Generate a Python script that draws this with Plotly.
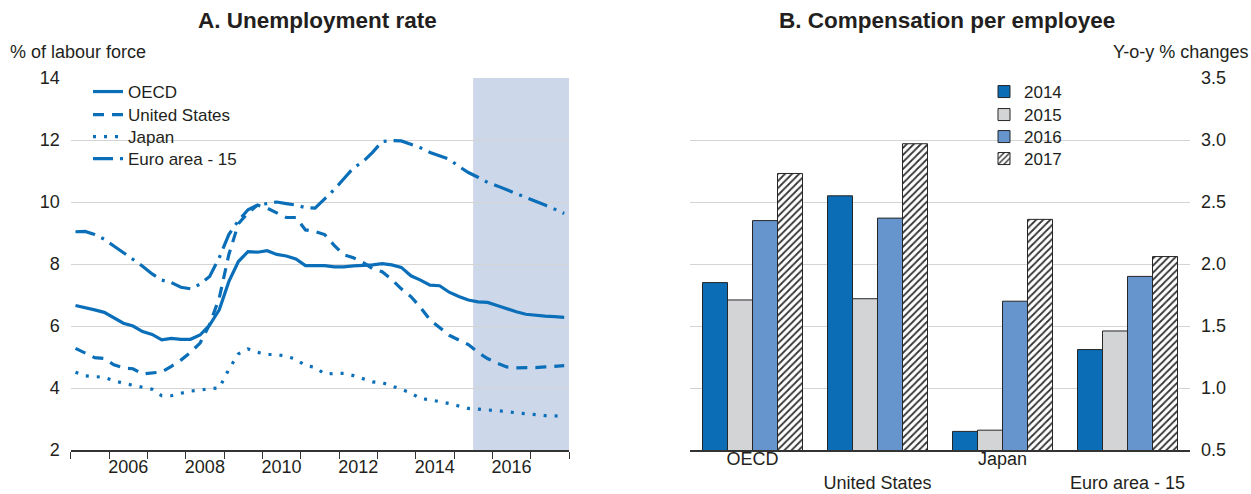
import plotly.graph_objects as go

# ---------------- Data ----------------
years = list(range(2005, 2018))
quarters = [f"{y}Q{q}" for y in years for q in range(1, 5)]

oecd = [6.66, 6.60, 6.52, 6.44,
        6.25, 6.09, 6.00, 5.82,
        5.73, 5.55, 5.60, 5.57,
        5.57, 5.71, 6.03, 6.52,
        7.43, 8.08, 8.40, 8.38,
        8.43, 8.31, 8.26, 8.16,
        7.95, 7.94, 7.95, 7.91,
        7.91, 7.94, 7.95, 7.97,
        8.01, 7.97, 7.89, 7.62,
        7.48, 7.32, 7.30, 7.09,
        6.95, 6.84, 6.78, 6.76,
        6.66, 6.55, 6.46, 6.38,
        6.34, 6.32, 6.30, 6.28]

united_states = [5.28, 5.12, 4.98, 4.95,
                 4.75, 4.65, 4.62, 4.45,
                 4.48, 4.52, 4.70, 4.90,
                 5.15, 5.45, 6.05, 6.90,
                 8.30, 9.30, 9.65, 9.90,
                 9.80, 9.65, 9.50, 9.50,
                 9.10, 9.05, 8.95, 8.60,
                 8.30, 8.20, 8.05, 7.85,
                 7.75, 7.50, 7.20, 6.95,
                 6.60, 6.20, 5.95, 5.70,
                 5.55, 5.40, 5.15, 4.95,
                 4.80, 4.68, 4.65, 4.65,
                 4.66, 4.68, 4.70, 4.72]

japan = [4.51, 4.39, 4.37, 4.34,
         4.24, 4.15, 4.09, 4.03,
         3.96, 3.75, 3.75, 3.83,
         3.90, 3.93, 3.98, 4.00,
         4.60, 5.10, 5.26, 5.15,
         5.08, 5.08, 5.02, 4.93,
         4.72, 4.67, 4.45, 4.47,
         4.47, 4.40, 4.29, 4.20,
         4.17, 4.07, 3.96, 3.84,
         3.66, 3.62, 3.57, 3.50,
         3.42, 3.34, 3.32, 3.30,
         3.28, 3.24, 3.20, 3.17,
         3.13, 3.11, 3.10, 3.09]

euro_area = [9.04, 9.05, 8.95, 8.80,
             8.58, 8.35, 8.15, 7.93,
             7.68, 7.48, 7.40, 7.25,
             7.20, 7.35, 7.60, 8.20,
             8.95, 9.40, 9.75, 9.90,
             9.95, 10.00, 9.95, 9.90,
             9.82, 9.80, 10.10, 10.40,
             10.75, 11.10, 11.30, 11.60,
             11.95, 11.98, 11.97, 11.85,
             11.75, 11.60, 11.50, 11.38,
             11.15, 10.95, 10.80, 10.63,
             10.52, 10.40, 10.27, 10.15,
             10.02, 9.90, 9.77, 9.63]

projection_start = 2015.5
year_labels = ["2006", "2008", "2010", "2012", "2014", "2016"]

countries = ["OECD", "United States", "Japan", "Euro area - 15"]
comp_2014 = [1.85, 2.55, 0.65, 1.31]
comp_2015 = [1.71, 1.72, 0.66, 1.46]
comp_2016 = [2.35, 2.37, 1.70, 1.90]
comp_2017 = [2.73, 2.97, 2.36, 2.06]


def qpos(label):
    return int(label[:4]) + (int(label[-1]) - 0.5) / 4


x_q = [qpos(s) for s in quarters]

# ---------------- Figure ----------------
W, H = 1251, 494
FONT = "Liberation Sans, Arial, sans-serif"
TXT = "#231f20"
BLUE = "#0a6fb8"
GRID = "#d4d4d4"
AX = "#333333"
LEG_Y = [92, 115, 137, 159]

fig = go.Figure()

line_specs = [
    ("OECD", oecd, "solid"),
    ("United States", united_states, "11px,8px"),
    ("Japan", japan, "3px,8px"),
    ("Euro area - 15", euro_area, "20px,7px,3px,7px"),
]
legends = {}
for i, (name, vals, dash) in enumerate(line_specs):
    lname = "legend" if i == 0 else f"legend{i + 1}"
    fig.add_trace(go.Scatter(
        x=x_q, y=vals, name=name, mode="lines",
        line=dict(color=BLUE, width=3.2, dash=dash),
        xaxis="x", yaxis="y", legend=lname,
    ))
    legends[lname] = dict(
        x=88 / W, y=1 - LEG_Y[i] / H, xanchor="left", yanchor="middle",
        bgcolor="rgba(0,0,0,0)", borderwidth=0, itemwidth=30,
        font=dict(size=17, color=TXT),
    )

bar_specs = [
    ("2014", comp_2014, dict(color="#0a6db5")),
    ("2015", comp_2015, dict(color="#d3d4d6")),
    ("2016", comp_2016, dict(color="#6694cc")),
    ("2017", comp_2017, dict(color="white",
                             pattern=dict(shape="/", fgcolor="#333333",
                                          bgcolor="white", size=5, solidity=0.35))),
]
for i, (name, vals, mk) in enumerate(bar_specs):
    lname = f"legend{i + 5}"
    mk = dict(mk)
    mk["line"] = dict(color="#262626", width=1)
    fig.add_trace(go.Bar(
        x=countries, y=vals, name=name, marker=mk,
        xaxis="x2", yaxis="y2", legend=lname,
    ))
    legends[lname] = dict(
        x=984 / W, y=1 - LEG_Y[i] / H, xanchor="left", yanchor="middle",
        bgcolor="rgba(0,0,0,0)", borderwidth=0,
        font=dict(size=17, color=TXT),
    )

fig.add_shape(type="rect", xref="x", yref="y",
              x0=projection_start, x1=2018, y0=2, y1=14,
              fillcolor="#cdd7ea", line=dict(width=0), layer="below")

y_dom = [1 - 450 / H, 1 - 78 / H]

fig.update_layout(
    width=W, height=H,
    margin=dict(l=0, r=0, t=0, b=0),
    template="none",
    paper_bgcolor="white", plot_bgcolor="rgba(0,0,0,0)",
    font=dict(family=FONT, size=18, color=TXT),
    barmode="group", bargap=0.2, bargroupgap=0,
    xaxis=dict(
        domain=[70.7 / W, 569 / W], range=[2005, 2018],
        tickmode="array", tickvals=[int(t) + 0.5 for t in year_labels], ticktext=year_labels,
        ticks="", showgrid=False, zeroline=False,
        showline=True, linecolor=AX, linewidth=1.5,
        minor=dict(tickmode="array", tickvals=list(range(2005, 2019)),
                   ticks="outside", ticklen=7, tickcolor=AX, tickwidth=1.2, showgrid=False),
        tickfont=dict(size=18, color=TXT), automargin=False, anchor="y",
    ),
    yaxis=dict(
        domain=y_dom, range=[2, 14], dtick=2, tick0=2,
        showgrid=True, gridcolor=GRID, gridwidth=1, zeroline=False,
        ticks="", showline=False, ticklabelstandoff=10,
        tickfont=dict(size=18, color=TXT), automargin=False, anchor="x",
    ),
    xaxis2=dict(
        domain=[690 / W, 1190 / W], anchor="y2",
        tickmode="array", tickvals=countries,
        ticktext=["OECD", "<br>United States", "Japan", "<br>Euro area - 15"],
        ticks="", showgrid=False, zeroline=False,
        showline=True, linecolor=AX, linewidth=1.5, ticklabelstandoff=-8,
        tickfont=dict(size=18, color=TXT), automargin=False,
    ),
    yaxis2=dict(
        domain=y_dom, anchor="x2", side="right", range=[0.5, 3.5], dtick=0.5, tick0=0.5,
        tickformat=".1f", showgrid=True, gridcolor=GRID, gridwidth=1, zeroline=False,
        ticks="", showline=False, ticklabelstandoff=10,
        tickfont=dict(size=18, color=TXT), automargin=False,
    ),
    showlegend=True,
    annotations=[
        dict(text="<b>A. Unemployment rate</b>", x=318 / W, y=1 - 20 / H, xref="paper", yref="paper",
             xanchor="center", yanchor="middle", showarrow=False, font=dict(size=22.5, color=TXT)),
        dict(text="<b>B. Compensation per employee</b>", x=947 / W, y=1 - 20 / H, xref="paper", yref="paper",
             xanchor="center", yanchor="middle", showarrow=False, font=dict(size=22.5, color=TXT)),
        dict(text="% of labour force", x=8 / W, y=1 - 52 / H, xref="paper", yref="paper",
             xanchor="left", yanchor="middle", showarrow=False, font=dict(size=18, color=TXT)),
        dict(text="Y-o-y % changes", x=1250 / W, y=1 - 52 / H, xref="paper", yref="paper",
             xanchor="right", yanchor="middle", showarrow=False, font=dict(size=18, color=TXT)),
    ],
)
fig.update_layout(**legends)

fig.write_html("out.html", config={"displayModeBar": False},
               post_script="document.body.style.margin='0px';")
